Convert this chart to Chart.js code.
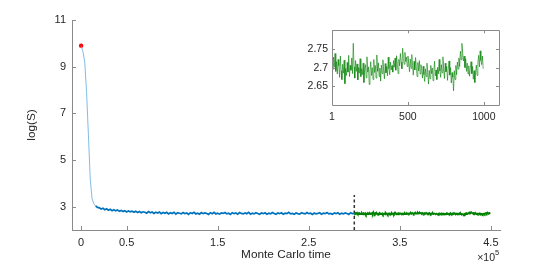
<!DOCTYPE html>
<html><head><meta charset="utf-8">
<script src="https://cdn.jsdelivr.net/npm/chart.js@4.4.1/dist/chart.umd.min.js"></script>
<style>
html,body{margin:0;padding:0;background:#fff;}
#wrap{position:relative;width:554px;height:264px;}
#main{position:absolute;left:0;top:0;}
#inset{position:absolute;left:290px;top:20px;}
</style></head><body>
<div id="wrap">
<canvas id="main" width="554" height="264"></canvas>
<canvas id="inset" width="215" height="110"></canvas>
</div>
<script>
// ---- data ----
const xTicks = [0, 50000, 150000, 250000, 350000, 450000];
const yTicks = [3, 5, 7, 9, 11];
const insetXTicks = [1, 500, 1000];
const insetYTicks = [2.65, 2.7, 2.75];
const startPoint = {x: 0, y: 9.9};
const burnIn = 300000;
const burnInLineY = [2, 3.5];
const blueStep = 2000;   // Monte Carlo time between blue samples
const blueValues = [
 9.90, 9.65, 9.20, 7.90, 6.10, 4.20, 3.35, 3.12, 3.03, 2.97,
 2.95, 2.90, 2.93, 2.87, 2.91, 2.85, 2.89, 2.83, 2.87, 2.82,
 2.86, 2.80, 2.84, 2.79, 2.83, 2.77, 2.82, 2.78, 2.81, 2.76,
 2.80, 2.75, 2.79, 2.74, 2.78, 2.76, 2.72, 2.79, 2.74, 2.77,
 2.71, 2.76, 2.73, 2.77, 2.70, 2.75, 2.72, 2.76, 2.69, 2.74,
 2.71, 2.76, 2.68, 2.74, 2.72, 2.69, 2.75, 2.70, 2.73, 2.67,
 2.74, 2.71, 2.76, 2.69, 2.72, 2.68, 2.75, 2.70, 2.73, 2.71,
 2.67, 2.74, 2.70, 2.76, 2.69, 2.72, 2.68, 2.73, 2.71, 2.75,
 2.69, 2.72, 2.67, 2.74, 2.70, 2.73, 2.68, 2.75, 2.71, 2.69,
 2.73, 2.70, 2.76, 2.68, 2.72, 2.69, 2.74, 2.71, 2.67, 2.73,
 2.70, 2.74, 2.68, 2.72, 2.69, 2.75, 2.71, 2.67, 2.73, 2.70,
 2.74, 2.68, 2.72, 2.70, 2.76, 2.69, 2.71, 2.67, 2.73, 2.70,
 2.68, 2.74, 2.71, 2.69, 2.75, 2.70, 2.72, 2.67, 2.73, 2.69,
 2.71, 2.74, 2.68, 2.72, 2.70, 2.75, 2.69, 2.71, 2.67, 2.73,
 2.70, 2.74, 2.68, 2.72, 2.69, 2.73, 2.71, 2.67, 2.74, 2.70,
 2.71
];
const greenStep = 750;   // Monte Carlo time between green samples
const insetStep = 5;     // sample index step in the inset
const greenValues = [
 2.712,2.695,2.728,2.701,2.738,2.690,2.716,2.683,2.722,2.705,2.674,2.731,2.692,2.668,2.709,2.685,2.720,2.657,2.698,2.679,
 2.714,2.688,2.733,2.676,2.706,2.693,2.726,2.684,2.765,2.702,2.672,2.719,2.690,2.710,2.667,2.700,2.685,2.724,2.676,2.697,
 2.681,2.712,2.660,2.695,2.708,2.673,2.729,2.688,2.702,2.655,2.691,2.716,2.679,2.700,2.668,2.722,2.687,2.706,2.672,2.734,
 2.690,2.713,2.676,2.699,2.664,2.707,2.684,2.721,2.693,2.670,2.711,2.686,2.703,2.678,2.728,2.697,2.681,2.715,2.694,2.706,
 2.688,2.719,2.701,2.726,2.693,2.732,2.710,2.684,2.722,2.705,2.738,2.715,2.697,2.752,2.724,2.709,2.741,2.716,2.728,2.703,
 2.731,2.712,2.689,2.723,2.698,2.735,2.706,2.680,2.717,2.694,2.727,2.702,2.676,2.714,2.691,2.719,2.683,2.708,2.699,2.672,
 2.704,2.681,2.663,2.697,2.676,2.712,2.688,2.656,2.693,2.670,2.706,2.684,2.699,2.665,2.690,2.717,2.678,2.694,2.668,2.701,
 2.683,2.722,2.691,2.674,2.708,2.686,2.729,2.697,2.671,2.712,2.689,2.703,2.666,2.695,2.718,2.680,2.700,2.659,2.687,2.674,
 2.638,2.692,2.668,2.706,2.681,2.715,2.696,2.726,2.703,2.744,2.721,2.765,2.739,2.718,2.731,2.700,2.724,2.690,2.712,2.683,
 2.705,2.677,2.698,2.716,2.684,2.703,2.669,2.692,2.660,2.688,2.707,2.679,2.714,2.733,2.702,2.745,2.719,2.708,2.731,2.697
];

// ---- styles ----
const FONT = "'Liberation Sans', Arial, Helvetica, sans-serif";
const TXT = '#262626';
const AX = '#8a8a8a';
const BLUE = '#0072BD';
const GREEN = '#008000';

const bluePts = blueValues.map((v, i) => ({x: i * blueStep, y: v}));
const greenPts = greenValues.map((v, i) => ({x: burnIn + i * greenStep, y: v}));
const insetPts = greenValues.map((v, i) => ({x: 1 + i * insetStep, y: v}));

function fmt(v) { return String(Math.round(v * 1000) / 1000); }

const inTicks = {
  id: 'inTicks',
  afterDraw(chart, args, opts) {
    const {ctx, chartArea: a, scales} = chart;
    const L = opts.len || 4;
    ctx.save();
    ctx.strokeStyle = AX;
    ctx.lineWidth = 1;
    ctx.beginPath();
    scales.x.ticks.forEach(t => {
      const p = Math.round(scales.x.getPixelForValue(t.value)) + 0.5;
      ctx.moveTo(p, a.bottom); ctx.lineTo(p, a.bottom - L);
      if (opts.box) { ctx.moveTo(p, a.top); ctx.lineTo(p, a.top + L); }
    });
    scales.y.ticks.forEach(t => {
      const p = Math.round(scales.y.getPixelForValue(t.value)) + 0.5;
      ctx.moveTo(a.left, p); ctx.lineTo(a.left + L, p);
      if (opts.box) { ctx.moveTo(a.right, p); ctx.lineTo(a.right - L, p); }
    });
    if (opts.box) {
      ctx.rect(Math.round(a.left) + 0.5, Math.round(a.top) + 0.5, Math.round(a.right - a.left), Math.round(a.bottom - a.top));
    }
    ctx.stroke();
    if (opts.exponent) {
      ctx.fillStyle = TXT;
      ctx.textBaseline = 'alphabetic';
      ctx.textAlign = 'left';
      ctx.font = '10.5px ' + FONT;
      const s = '\u00d710';
      const w = ctx.measureText(s).width;
      const x0 = a.right - w - 5;
      ctx.fillText(s, x0, 261);
      ctx.font = '7.5px ' + FONT;
      ctx.fillText('5', x0 + w, 255);
    }
    ctx.restore();
  }
};

new Chart(document.getElementById('main'), {
  type: 'line',
  data: {
    datasets: [
      {data: bluePts, borderColor: BLUE, borderWidth: 1.7, pointRadius: 0, tension: 0,
       segment: {
         borderWidth: c => (c.p0.parsed.x < 16000 ? 0.7 : 1.7),
         borderColor: c => (c.p0.parsed.x < 16000 ? '#4a9fd8' : BLUE)
       }},
      {data: greenPts, borderColor: GREEN, borderWidth: 1.7, pointRadius: 0, tension: 0},
      {data: [{x: burnIn, y: burnInLineY[0]}, {x: burnIn, y: burnInLineY[1]}], borderColor: '#333333',
       borderWidth: 1.5, borderDash: [3, 2.5], pointRadius: 0},
      {data: [startPoint], showLine: false, pointRadius: 2.2, pointBackgroundColor: '#ff0000',
       pointBorderColor: '#ff0000', borderWidth: 0}
    ]
  },
  options: {
    responsive: false, animation: false, devicePixelRatio: 1,
    layout: {padding: {top: 20, right: 54, left: 0, bottom: 0}},
    plugins: {legend: {display: false}, tooltip: {enabled: false}, inTicks: {len: 4, exponent: true}},
    scales: {
      x: {
        type: 'linear', min: -10000, max: 460000,
        afterFit: s => { s.height = 34; },
        afterBuildTicks: s => { s.ticks = xTicks.map(v => ({value: v})); },
        grid: {display: false, drawTicks: false},
        border: {display: true, color: AX, width: 1},
        ticks: {color: TXT, font: {family: FONT, size: 11}, padding: 6, maxRotation: 0,
                callback: v => fmt(v / 1e5)},
        title: {display: true, text: 'Monte Carlo time', color: TXT, font: {family: FONT, size: 11.8},
                padding: {top: 0, bottom: 2}}
      },
      y: {
        type: 'linear', min: 2, max: 11,
        afterFit: s => { s.width = 72; },
        afterBuildTicks: s => { s.ticks = yTicks.map(v => ({value: v})); },
        grid: {display: false, drawTicks: false},
        border: {display: true, color: AX, width: 1},
        ticks: {color: TXT, font: {family: FONT, size: 11}, padding: 6, callback: v => fmt(v)},
        title: {display: true, text: 'log(S)', color: TXT, font: {family: FONT, size: 11.8},
                padding: {top: 25, bottom: 0}}
      }
    }
  },
  plugins: [inTicks]
});

new Chart(document.getElementById('inset'), {
  type: 'line',
  data: {
    datasets: [
      {data: insetPts, borderColor: GREEN, borderWidth: 0.6, pointRadius: 0, tension: 0}
    ]
  },
  options: {
    responsive: false, animation: false, devicePixelRatio: 1,
    layout: {padding: {top: 6, right: 6, left: 0, bottom: 0}},
    plugins: {legend: {display: false}, tooltip: {enabled: false}, inTicks: {len: 3, box: true}},
    scales: {
      x: {
        type: 'linear', min: 1, max: 1100,
        afterFit: s => { s.height = 25; },
        afterBuildTicks: s => { s.ticks = insetXTicks.map(v => ({value: v})); },
        grid: {display: false, drawTicks: false},
        border: {display: false},
        ticks: {color: TXT, font: {family: FONT, size: 10.5}, padding: 6, maxRotation: 0, callback: v => fmt(v)}
      },
      y: {
        type: 'linear', min: 2.6, max: 2.8,
        afterFit: s => { s.width = 42; },
        afterBuildTicks: s => { s.ticks = insetYTicks.map(v => ({value: v})); },
        grid: {display: false, drawTicks: false},
        border: {display: false},
        ticks: {color: TXT, font: {family: FONT, size: 10.5}, padding: 4, callback: v => fmt(v)}
      }
    }
  },
  plugins: [inTicks]
});
</script>
</body></html>
